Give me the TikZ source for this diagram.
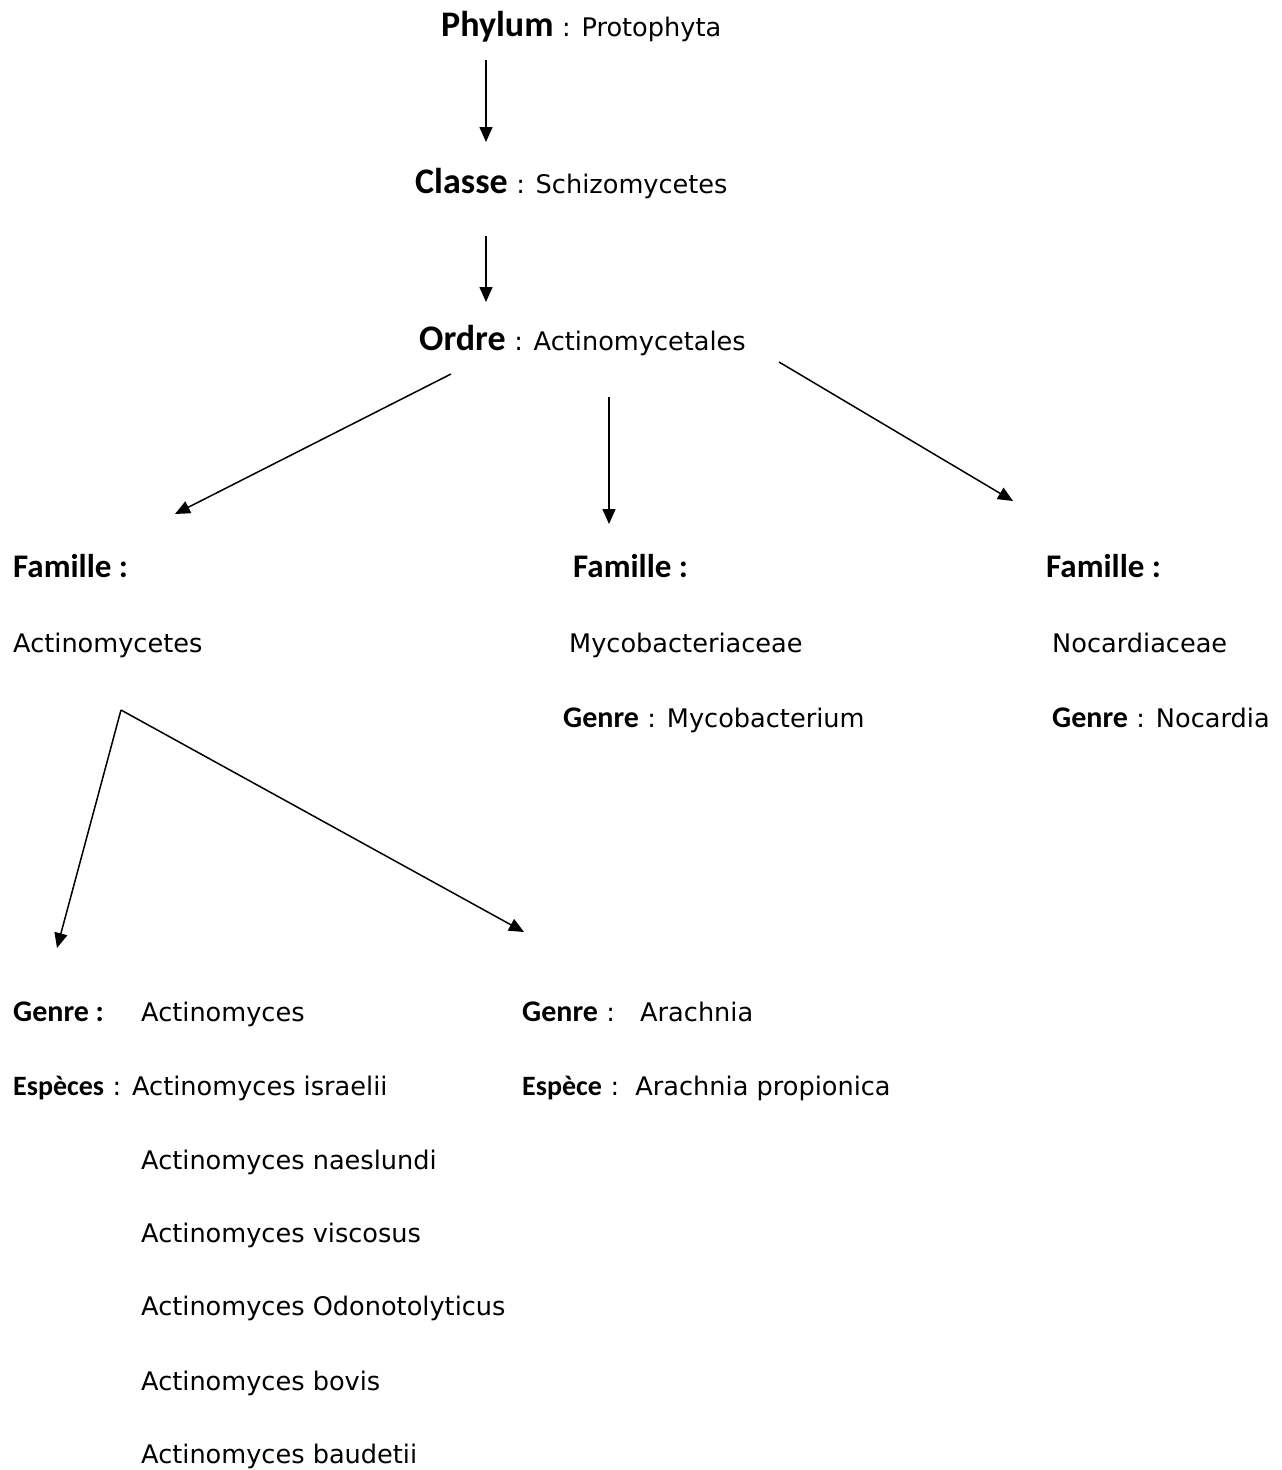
\documentclass[tikz,border=0pt]{standalone}
\usepackage{fontspec}
\setmainfont{DejaVu Sans}
\newfontfamily\hdfont{Carlito}
\usetikzlibrary{arrows.meta}
\begin{document}
\begin{tikzpicture}[x=1pt,y=-1pt,
  txt/.style={anchor=base west,inner sep=0pt,font=\fontsize{25.6}{29}\selectfont},
  big/.style={anchor=base west,inner sep=0pt,font=\hdfont\bfseries\fontsize{36}{40}\selectfont},
  fam/.style={anchor=base west,inner sep=0pt,font=\hdfont\bfseries\fontsize{33}{38}\selectfont},
  gen/.style={anchor=base west,inner sep=0pt,font=\hdfont\bfseries\fontsize{30}{34}\selectfont},
  esp/.style={anchor=base west,inner sep=0pt,font=\hdfont\bfseries\fontsize{28}{32}\selectfont},
  arr/.style={line width=1.5pt,-{Triangle[length=15pt,width=13pt]}}]
\useasboundingbox (0,0) rectangle (1282,1470);
% top levels
\node[big] (phy) at (441,36) {Phylum};
\node[txt] (phyv) at (phy.base east) {\ : Protophyta};
\node[big] (cla) at (415,193) {Classe};
\node[txt] (clav) at (cla.base east) {\ : Schizomycetes};
\node[big] (ord) at (419,350) {Ordre};
\node[txt] (ordv) at (ord.base east) {\ : Actinomycetales};
% families
\node[fam] (f1) at (13,577) {Famille :};
\node[fam] (f2) at (573,577) {Famille :};
\node[fam] (f3) at (1046,577) {Famille :};
\node[txt] (f1v) at (13,652) {Actinomycetes};
\node[txt] (f2v) at (569,652) {Mycobacteriaceae};
\node[txt] (f3v) at (1052,652) {Nocardiaceae};
\node[gen] (g2) at (563,727) {Genre};
\node[txt] (g2v) at (g2.base east) {\ : Mycobacterium};
\node[gen] (g3) at (1052,727) {Genre};
\node[txt] (g3v) at (g3.base east) {\ : Nocardia};
% genera
\node[gen] (g1) at (13,1021) {Genre :};
\node[txt] (g1v) at (141,1021) {Actinomyces};
\node[gen] (g4) at (522,1021) {Genre};
\node[txt] (g4c) at (g4.base east) {\ :};
\node[txt] (g4v) at (640,1021) {Arachnia};
\node[esp] (e1) at (13,1095) {Espèces};
\node[txt] (e1v) at (e1.base east) {\ : Actinomyces israelii};
\node[esp] (e4) at (522,1095) {Espèce};
\node[txt] (e4v) at (e4.base east) {\ :\ \ Arachnia propionica};
\node[txt] (s2) at (141,1169) {Actinomyces naeslundi};
\node[txt] (s3) at (141,1242) {Actinomyces viscosus};
\node[txt] (s4) at (141,1315) {Actinomyces Odonotolyticus};
\node[txt] (s5) at (141,1390) {Actinomyces bovis};
\node[txt] (s6) at (141,1463) {Actinomyces baudetii};
% connector ends
\coordinate (a1s) at (486,60);  \coordinate (a1e) at (486,142);
\coordinate (a2s) at (486,236); \coordinate (a2e) at (486,302);
\coordinate (a3s) at (451,374); \coordinate (a3e) at (175,514);
\coordinate (a4s) at (609,397); \coordinate (a4e) at (609,524);
\coordinate (a5s) at (779,362); \coordinate (a5e) at (1013,501);
\coordinate (a6s) at (121,710); \coordinate (a6e) at (57,948);
\coordinate (a7e) at (524,932);
\draw[arr] (a1s) -- (a1e);
\draw[arr] (a2s) -- (a2e);
\draw[arr] (a3s) -- (a3e);
\draw[arr] (a4s) -- (a4e);
\draw[arr] (a5s) -- (a5e);
\draw[arr] (a6s) -- (a6e);
\draw[arr] (a6s) -- (a7e);
\end{tikzpicture}
\end{document}
